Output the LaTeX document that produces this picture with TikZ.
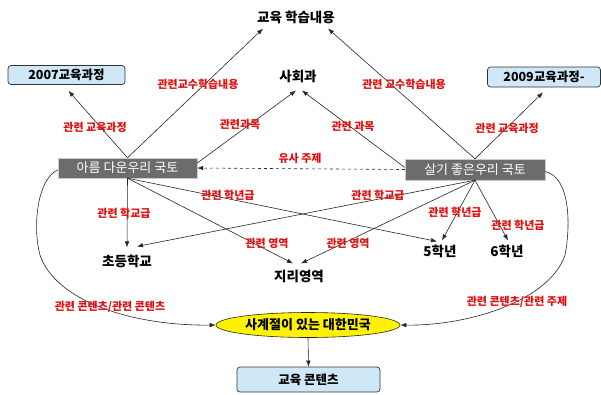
\documentclass[tikz,border=0pt]{standalone}
\usepackage{fontspec}
\setmainfont{Noto Sans CJK KR}
\usetikzlibrary{arrows.meta,shapes.geometric,calc}
\definecolor{lblred}{HTML}{E01010}
\definecolor{boxblue}{HTML}{CFE8F7}
\definecolor{boxgray}{HTML}{6C6C6C}
\begin{document}
\begin{tikzpicture}[x=1pt,y=-1pt,
  lbl/.style={text=lblred,font=\fontsize{11}{12}\selectfont\bfseries,inner sep=0pt},
  blk/.style={font=\fontsize{13.5}{14}\selectfont\bfseries,inner sep=0pt},
  cbox/.style={draw=black!80,fill=boxblue,rounded corners=3pt,font=\fontsize{12.5}{13}\selectfont\bfseries,inner sep=0pt,line width=0.7pt},
  gbox/.style={fill=boxgray,draw=black!20,text=white,font=\fontsize{13}{14}\selectfont,inner sep=0pt},
  arr/.style={-{Latex[length=6pt,width=4.5pt]},line width=0.6pt,draw=black!85},
  curv/.style={-{Latex[length=6pt,width=4.5pt]},line width=0.6pt,draw=black!85}]
\useasboundingbox (0,0) rectangle (601,394);
% nodes
\node[blk] (top) at (296,17) {교육 학습내용};
\node[cbox,minimum width=117pt,minimum height=19pt] (c07) at (66.5,75) {2007교육과정};
\node[cbox,minimum width=113pt,minimum height=20pt] (c09) at (544,77) {2009교육과정-};
\node[blk] (soc) at (298,76) {사회과};
\node[gbox,minimum width=139pt,minimum height=20pt] (ar) at (127.5,168) {아름 다운우리 국토};
\node[gbox,minimum width=140pt,minimum height=21pt] (sal) at (475,169.5) {살기 좋은우리 국토};
\node[blk] (elem) at (127,261) {초등학교};
\node[blk] (geo) at (299,276) {지리영역};
\node[blk] (g5) at (440,251) {5학년};
\node[blk] (g6) at (507,251) {6학년};
\node[ellipse,draw=black!85,fill=yellow,line width=0.6pt,minimum width=184pt,minimum height=25pt,inner sep=0pt,font=\fontsize{13}{14}\selectfont\bfseries] (ell) at (308,325) {사계절이 있는 대한민국};
\node[cbox,minimum width=143pt,minimum height=25pt] (cont) at (308.5,379.5) {교육 콘텐츠};
% upper connectors
\draw[arr] (ar.north) -- ($(c07.south)+(2,6)$);
\draw[arr] (ar.north) -- ($(top.south)+(-33,5)$);
\draw[arr] ([yshift=5pt]ar.east) -- ($(soc.south)+(-2,8)$);
\draw[arr] ([yshift=2pt]sal.west) -- ($(soc.south)+(4,8)$);
\draw[arr] (sal.north) -- ($(top.south)+(32,5)$);
\draw[arr] (sal.north) -- ($(c09.south)+(-1,5)$);
\draw[arr,dashed] (sal.west) -- (ar.east);
% lower connectors
\draw[arr] (ar.south) -- ($(elem.north)+(0,-7)$);
\draw[arr] (ar.south) -- ($(geo.north)+(-6,-6)$);
\draw[arr] (ar.south) -- ($(g5.north)+(-3,-3)$);
\draw[arr] (sal.south) -- ($(elem.north)+(10,-8)$);
\draw[arr] (sal.south) -- ($(geo.north)+(2,-6)$);
\draw[arr] (sal.south) -- ($(g5.north)+(2,-4)$);
\draw[arr] (sal.south) -- ($(g6.north)+(1,-4)$);
% curves
\draw[curv] ([yshift=-2pt]ar.west) .. controls (38,178) and (32,225) .. (40,255)
            .. controls (55,300) and (130,326) .. (ell.west);
\draw[curv] ([yshift=-2pt]sal.east) .. controls (572,178) and (570,230) .. (565,255)
            .. controls (550,300) and (470,326) .. (ell.east);
\draw[arr] (ell.south) -- (cont.north);
% labels
\node[lbl] (l1) at (95,127) {관련 교육과정};
\node[lbl] (l2) at (198,84) {관련교수학습내용};
\node[lbl] (l3) at (240,124) {관련과목};
\node[lbl] (l4) at (300,158) {유사 주제};
\node[lbl] (l5) at (404,84) {관련 교수학습내용};
\node[lbl] (l6) at (353,126) {관련 과목};
\node[lbl] (l7) at (507,128) {관련 교육과정};
\node[lbl] (l8) at (228,195) {관련 학년급};
\node[lbl] (l9) at (378,195) {관련 학교급};
\node[lbl] (l10) at (124,213) {관련 학교급};
\node[lbl] (l11) at (455,212) {관련 학년급};
\node[lbl] (l12) at (518,225) {관련 학년급};
\node[lbl] (l13) at (267,243) {관련 영역};
\node[lbl] (l14) at (348,243) {관련 영역};
\node[lbl] (l15) at (110,307) {관련 콘텐츠/관련 콘텐츠};
\node[lbl] (l16) at (517,302) {관련 콘텐츠/관련 주제};
\end{tikzpicture}
\end{document}
